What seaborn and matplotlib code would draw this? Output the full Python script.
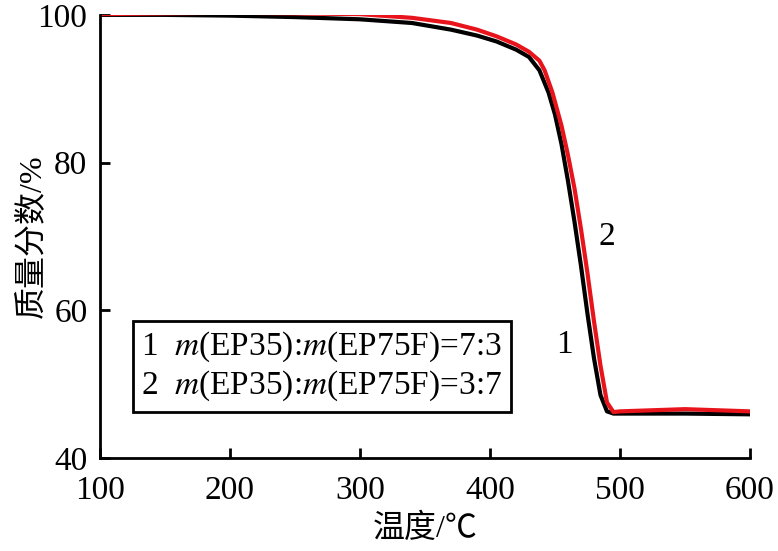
import pandas as pd
import matplotlib
matplotlib.use("Agg")
import matplotlib.pyplot as plt
import seaborn as sns

# -------------------------------
# Data
# -------------------------------
temp_1 = [100, 150, 200, 250, 300, 340, 370, 390, 405, 420, 430, 438, 445, 450,
          455, 460, 465, 470, 475, 480, 485, 490, 495, 500, 550, 600]
mass_1 = [100.0, 100.0, 99.9, 99.7, 99.4, 98.9, 98.0, 97.2, 96.4, 95.3, 94.3, 92.5,
          89.5, 86.5, 82.5, 77.5, 72.0, 66.0, 59.5, 53.5, 48.5, 46.3, 46.0, 46.0,
          46.0, 45.9]

temp_2 = [100, 150, 200, 250, 300, 340, 370, 390, 405, 420, 430, 438, 442, 448,
          455, 460, 465, 470, 475, 480, 485, 490, 495, 500, 550, 600]
mass_2 = [100.1, 100.2, 100.3, 100.2, 100.1, 99.6, 98.9, 98.0, 97.1, 96.0, 95.0,
          93.8, 92.5, 89.5, 85.0, 81.0, 76.5, 71.0, 65.0, 58.5, 52.5, 47.5, 46.2,
          46.3, 46.6, 46.3]

labels = ["1  $m$(EP35):$m$(EP75F)=7:3", "2  $m$(EP35):$m$(EP75F)=3:7"]
colors = ["#000000", "#e8141c"]

df = pd.concat([
    pd.DataFrame({"temp": temp_1, "mass": mass_1, "sample": labels[0]}),
    pd.DataFrame({"temp": temp_2, "mass": mass_2, "sample": labels[1]}),
])

# -------------------------------
# Style
# -------------------------------
sns.set_style("ticks")
plt.rcParams["font.family"] = ["Liberation Serif", "Noto Sans CJK SC"]
plt.rcParams["mathtext.fontset"] = "stix"
plt.rcParams["axes.unicode_minus"] = False
plt.rcParams["text.color"] = "black"
plt.rcParams["axes.labelcolor"] = "black"
plt.rcParams["xtick.color"] = "black"
plt.rcParams["ytick.color"] = "black"

fig = plt.figure(figsize=(7.78, 5.51), dpi=100)
ax = fig.add_axes([0.1285, 0.169, 0.8355, 0.804])

sns.lineplot(data=df, x="temp", y="mass", hue="sample", palette=colors,
             linewidth=3, sort=False, ax=ax)

ax.set_xlim(100, 600)
ax.set_ylim(40, 100)
ax.set_xticks([100, 200, 300, 400, 500, 600])
ax.set_yticks([40, 60, 80, 100])

sns.despine(ax=ax)
for side in ["left", "bottom"]:
    ax.spines[side].set_linewidth(2)
    ax.spines[side].set_color("black")
ax.tick_params(direction="in", length=7, width=2, labelsize=24)
ax.tick_params(axis="x", pad=13)
ax.tick_params(axis="y", pad=9)

ax.set_xlabel("温度/℃", fontsize=23, labelpad=5)
ax.set_ylabel("质量分数/%", fontsize=23, labelpad=-7)

# curve labels
ax.text(490, 70, "2", fontsize=24, ha="center", va="center")
ax.text(457, 55.3, "1", fontsize=24, ha="center", va="center")

leg = ax.legend(loc="lower left", bbox_to_anchor=(0.051, 0.104), fontsize=24,
                handlelength=0, handletextpad=0, fancybox=False, framealpha=1,
                edgecolor="black", borderpad=0.25, labelspacing=0.15,
                borderaxespad=0)
leg.get_frame().set_linewidth(2)
for h in leg.legend_handles:
    h.set_visible(False)

plt.savefig("out.png", dpi=100)
